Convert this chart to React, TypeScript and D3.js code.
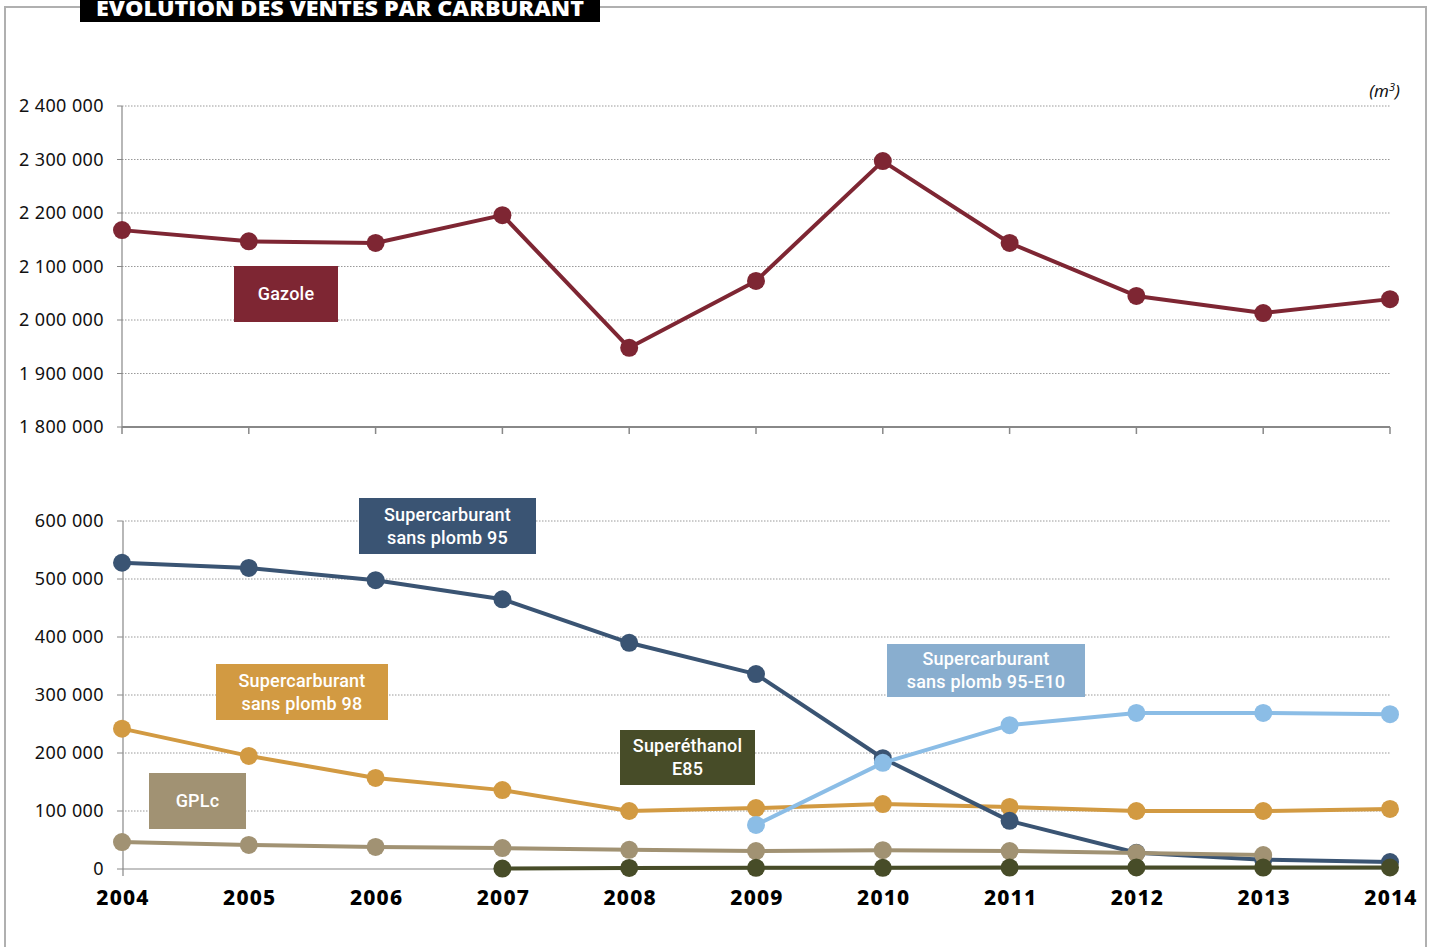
import React from "react";
import * as d3 from "d3";

const years = [2004, 2005, 2006, 2007, 2008, 2009, 2010, 2011, 2012, 2013, 2014];
const gazole = [2168000, 2147000, 2144000, 2196000, 1948000, 2073000, 2297000, 2144000, 2045000, 2013000, 2039000];
const sp95 = [528000, 519000, 498000, 465000, 390000, 336000, 191000, 83000, 28000, 16000, 12000];
const sp98 = [242000, 195000, 157000, 136000, 100000, 105000, 112000, 107000, 100000, 100000, 103500];
const e10: (number | null)[] = [null, null, null, null, null, 76000, 183000, 248000, 269000, 269000, 267000];
const gplc: (number | null)[] = [46500, 41500, 38000, 36000, 33000, 31000, 32500, 31000, 27500, 24000, null];
const e85: (number | null)[] = [null, null, null, 700, 1800, 2000, 2100, 2500, 2700, 2500, 2600];

const topTicks = [1800000, 1900000, 2000000, 2100000, 2200000, 2300000, 2400000];
const bottomTicks = [0, 100000, 200000, 300000, 400000, 500000, 600000];

const fmt = (v: number) => d3.format(",")(v).replace(/,/g, " ");

const W = 1434, H = 947;
const x0 = 122, x1 = 1390;

export default function App() {
  const x = d3.scaleLinear().domain([2004, 2014]).range([x0, x1]);
  const yTop = d3.scaleLinear().domain([1800000, 2400000]).range([427, 106]);
  const yBot = d3.scaleLinear().domain([0, 600000]).range([869, 521]);

  const mkLine = (ys: d3.ScaleLinear<number, number>) =>
    d3
      .line<number | null>()
      .defined((d) => d !== null)
      .x((_, i) => x(years[i]))
      .y((d) => ys(d as number));

  const series = (
    vals: (number | null)[],
    ys: d3.ScaleLinear<number, number>,
    color: string,
    key: string
  ) => (
    <g key={key}>
      <path d={mkLine(ys)(vals) || ""} fill="none" stroke={color} strokeWidth={4} strokeLinejoin="round" />
      {vals.map((v, i) =>
        v === null ? null : <circle key={i} cx={x(years[i])} cy={ys(v)} r={9} fill={color} />
      )}
    </g>
  );

  const label = (
    x1: number, y1: number, x2: number, y2: number, fill: string, lines: string[], key: string
  ) => (
    <g key={key}>
      <rect x={x1} y={y1} width={x2 - x1} height={y2 - y1} fill={fill} />
      {lines.map((l, i) => (
        <text
          key={i}
          x={(x1 + x2) / 2}
          y={(y1 + y2) / 2 + (i - (lines.length - 1) / 2) * 23 + 6}
          textAnchor="middle"
          fill="#fff"
          fontFamily="Roboto, 'Noto Sans', sans-serif"
          fontWeight={500}
          fontSize={18}
          letterSpacing={0.2}
        >
          {l}
        </text>
      ))}
    </g>
  );

  const tickFont = "'Noto Sans', 'Open Sans', sans-serif";

  return (
    <svg width={W} height={H} style={{ position: "absolute", left: 0, top: 0, background: "#fff" }}>
      {/* frame */}
      <path d="M80,7 H5 V947" fill="none" stroke="#b0b0b0" strokeWidth={2} />
      <path d="M600,7 H1426 V947" fill="none" stroke="#b0b0b0" strokeWidth={2} />
      <rect x={80} y={-10} width={520} height={32} fill="#000" />
      <text x={340} y={16} textAnchor="middle" fill="#fff" fontFamily="'Open Sans', sans-serif" fontWeight={800} fontSize={21} textLength={488} lengthAdjust="spacingAndGlyphs">
        EVOLUTION DES VENTES PAR CARBURANT
      </text>
      <text x={1400} y={97} textAnchor="end" fontFamily={tickFont} fontStyle="italic" fontSize={17} fill="#111">
        (m<tspan dy={-6} fontSize={11}>3</tspan><tspan dy={6}>)</tspan>
      </text>

      {/* top grid */}
      {topTicks.map((t) => (
        <g key={"tt" + t}>
          {t !== 1800000 && (
            <line x1={x0} x2={x1} y1={yTop(t)} y2={yTop(t)} stroke="#999" strokeWidth={1} strokeDasharray="1.5,1.5" />
          )}
          <line x1={117} x2={x0} y1={yTop(t)} y2={yTop(t)} stroke="#888" strokeWidth={1} />
          <text x={104} y={yTop(t) + 6} textAnchor="end" fontFamily={tickFont} fontSize={18} letterSpacing={0.4} fill="#111">
            {fmt(t)}
          </text>
        </g>
      ))}
      <line x1={x0} x2={x0} y1={106} y2={427} stroke="#888" strokeWidth={1.2} />
      <line x1={x0} x2={x1} y1={427} y2={427} stroke="#888" strokeWidth={2} />
      {years.map((yr) => (
        <line key={"tk" + yr} x1={x(yr)} x2={x(yr)} y1={427} y2={434} stroke="#888" strokeWidth={1.5} />
      ))}
      {series(gazole, yTop, "#7e2633", "gaz")}
      {label(234, 266, 338, 322, "#7e2633", ["Gazole"], "lg")}

      {/* bottom grid */}
      {bottomTicks.map((t) => (
        <g key={"bt" + t}>
          {t !== 0 && (
            <line x1={x0} x2={x1} y1={yBot(t)} y2={yBot(t)} stroke="#999" strokeWidth={1} strokeDasharray="1.5,1.5" />
          )}
          <line x1={117} x2={x0} y1={yBot(t)} y2={yBot(t)} stroke="#888" strokeWidth={1} />
          <text x={104} y={yBot(t) + 6} textAnchor="end" fontFamily={tickFont} fontSize={18} letterSpacing={0.4} fill="#111">
            {fmt(t)}
          </text>
        </g>
      ))}
      <line x1={x0 + 1} x2={x0 + 1} y1={521} y2={876} stroke="#888" strokeWidth={1.2} />
      <line x1={x0} x2={x1} y1={869} y2={869} stroke="#888" strokeWidth={1.2} />
      {years.map((yr) => (
        <text key={"yl" + yr} x={x(yr) + 1} y={905} textAnchor="middle" fontFamily={tickFont} fontWeight={800} fontSize={21} letterSpacing={1.2} fill="#000">
          {yr}
        </text>
      ))}

      {series(sp98, yBot, "#d29a42", "sp98")}
      {series(sp95, yBot, "#3a5473", "sp95")}
      {series(gplc, yBot, "#a19273", "gplc")}
      {series(e10, yBot, "#8bbde6", "e10")}
      {series(e85, yBot, "#474c28", "e85")}

      {label(359, 498, 536, 554, "#3a5473", ["Supercarburant", "sans plomb 95"], "l95")}
      {label(216, 664, 388, 720, "#d29a42", ["Supercarburant", "sans plomb 98"], "l98")}
      {label(887, 644, 1085, 697, "#89aecf", ["Supercarburant", "sans plomb 95-E10"], "l10")}
      {label(620, 730, 755, 785, "#474c28", ["Superéthanol", "E85"], "l85")}
      {label(149, 773, 246, 829, "#a19273", ["GPLc"], "lgp")}
    </svg>
  );
}
